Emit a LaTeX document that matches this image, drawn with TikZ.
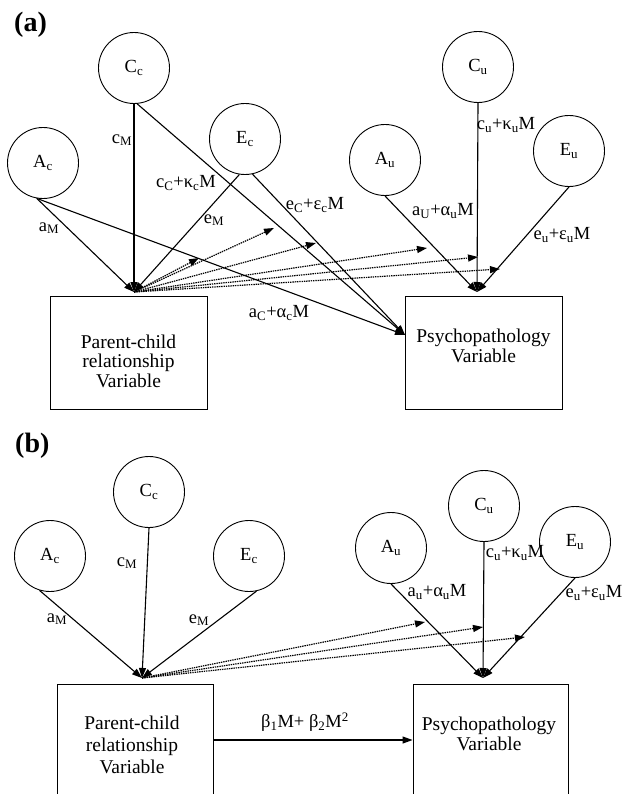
\documentclass[tikz,border=0pt]{standalone}
\usepackage{fontspec}
\setmainfont{Liberation Serif}
\usetikzlibrary{arrows.meta}
\begin{document}
\begin{tikzpicture}[x=1pt,y=-1pt,
  lat/.style={draw,circle,minimum size=71pt,inner sep=0pt,line width=0.9pt,font=\fontsize{18.5}{19}\selectfont},
  boxv/.style={draw,rectangle,line width=0.9pt,inner sep=0pt},
  boxt/.style={align=center,inner sep=0pt},
  lab/.style={inner sep=0pt,font=\fontsize{18.5}{19}\selectfont},
  panel/.style={inner sep=0pt,anchor=west,font=\fontsize{28}{28}\selectfont\bfseries},
  arr/.style={line width=1.1pt,-{Triangle[length=10pt,width=7pt]}},
  darr/.style={line width=1.2pt,dash pattern=on 1.4pt off 0.9pt,-{Triangle[length=10pt,width=7pt]}}]
\clip (0,0) rectangle (623,794);
% ---------------- panel (a)
\node[panel] (pa) at (14,25) {(a)};
\node[lat] (Aca) at (43,163) {A\textsubscript{c}};
\node[lat] (Cca) at (134,68) {C\textsubscript{c}};
\node[lat] (Eca) at (245,139) {E\textsubscript{c}};
\node[lat] (Aua) at (385,160) {A\textsubscript{u}};
\node[lat] (Cua) at (478,67) {C\textsubscript{u}};
\node[lat] (Eua) at (569,151) {E\textsubscript{u}};
\node[boxv,minimum width=157pt,minimum height=113pt] (PCa) at (128.5,352.5) {};
\node[boxt,font=\fontsize{19.5}{19.5}\selectfont] (PCat) at (128.5,361) {Parent-child\\relationship\\Variable};
\node[boxv,minimum width=157pt,minimum height=113pt] (PSa) at (483.5,352.5) {};
\node[boxt,font=\fontsize{19.5}{19.5}\selectfont] (PSat) at (483.5,346) {Psychopathology\\Variable};
\coordinate (jPCa) at (134,292);
\coordinate (jPSa) at (477,292);
\coordinate (jLa) at (405,335);
\draw[arr] (Aca.260) -- (jPCa);
\draw[arr] (Cca.south) -- (jPCa);
\draw[arr] (Eca.261) -- (jPCa);
\draw[arr] (Aca.260) -- (jLa);
\draw[arr] (Cca.275) -- (jLa);
\draw[arr] (Eca.282) -- (jLa);
\draw[arr] (Aua.south) -- (jPSa);
\draw[arr] (Cua.south) -- (jPSa);
\draw[arr] (Eua.south) -- (jPSa);
\coordinate (ma1) at (199,258);
\coordinate (ma2) at (274,228);
\coordinate (ma3) at (316,243);
\coordinate (ma4) at (427,248);
\coordinate (ma5) at (478,257);
\coordinate (ma6) at (500,269);
\foreach \m in {ma1,ma2,ma3,ma4,ma5,ma6} \draw[darr] (jPCa) -- (\m);
\node[lab] (la1) at (49,228) {a\textsubscript{M}};
\node[lab] (la2) at (122,140) {c\textsubscript{M}};
\node[lab] (la3) at (186,183) {c\textsubscript{C}+κ\textsubscript{c}M};
\node[lab] (la4) at (214,220) {e\textsubscript{M}};
\node[lab] (la5) at (315,205) {e\textsubscript{C}+ε\textsubscript{c}M};
\node[lab] (la6) at (279,313) {a\textsubscript{C}+α\textsubscript{c}M};
\node[lab] (la7) at (443,211) {a\textsubscript{U}+α\textsubscript{u}M};
\node[lab] (la8) at (506,125) {c\textsubscript{u}+κ\textsubscript{u}M};
\node[lab] (la9) at (562,235) {e\textsubscript{u}+ε\textsubscript{u}M};
% ---------------- panel (b)
\node[panel] (pb) at (15,446) {(b)};
\node[lat] (Acb) at (50,556) {A\textsubscript{c}};
\node[lat] (Ccb) at (149,492) {C\textsubscript{c}};
\node[lat] (Ecb) at (249,556) {E\textsubscript{c}};
\node[lat] (Aub) at (391,548) {A\textsubscript{u}};
\node[lat] (Cub) at (484,506) {C\textsubscript{u}};
\node[lat] (Eub) at (575,542) {E\textsubscript{u}};
\node[boxv,minimum width=156pt,minimum height=130pt] (PCb) at (135,749) {};
\node[boxt,font=\fontsize{19.5}{22}\selectfont] (PCbt) at (132,745) {Parent-child\\relationship\\Variable};
\node[boxv,minimum width=155pt,minimum height=130pt] (PSb) at (490.5,749) {};
\node[boxt,font=\fontsize{19.5}{20}\selectfont] (PSbt) at (489,734) {Psychopathology\\Variable};
\coordinate (jPCb) at (142,678);
\coordinate (jPSb) at (483,678);
\draw[arr] (Acb.253) -- (jPCb);
\draw[arr] (Ccb.south) -- (jPCb);
\draw[arr] (Ecb.282) -- (jPCb);
\draw[arr] (Aub.south) -- (jPSb);
\draw[arr] (Cub.south) -- (jPSb);
\draw[arr] (Eub.south) -- (jPSb);
\coordinate (mb1) at (425,622);
\coordinate (mb2) at (483,627);
\coordinate (mb3) at (525,637);
\foreach \m in {mb1,mb2,mb3} \draw[darr] (jPCb) -- (\m);
\draw[arr] (PCb.east |- 0,740) -- (PSb.west |- 0,740);
\node[lab] (lb0) at (305,722) {β\textsubscript{1}M+ β\textsubscript{2}M\textsuperscript{2}};
\node[lab] (lb1) at (57,619) {a\textsubscript{M}};
\node[lab] (lb2) at (127,563) {c\textsubscript{M}};
\node[lab] (lb3) at (199,620) {e\textsubscript{M}};
\node[lab] (lb4) at (437,592) {a\textsubscript{u}+α\textsubscript{u}M};
\node[lab] (lb5) at (515,553) {c\textsubscript{u}+κ\textsubscript{u}M};
\node[lab] (lb6) at (594,593) {e\textsubscript{u}+ε\textsubscript{u}M};
\end{tikzpicture}
\end{document}
